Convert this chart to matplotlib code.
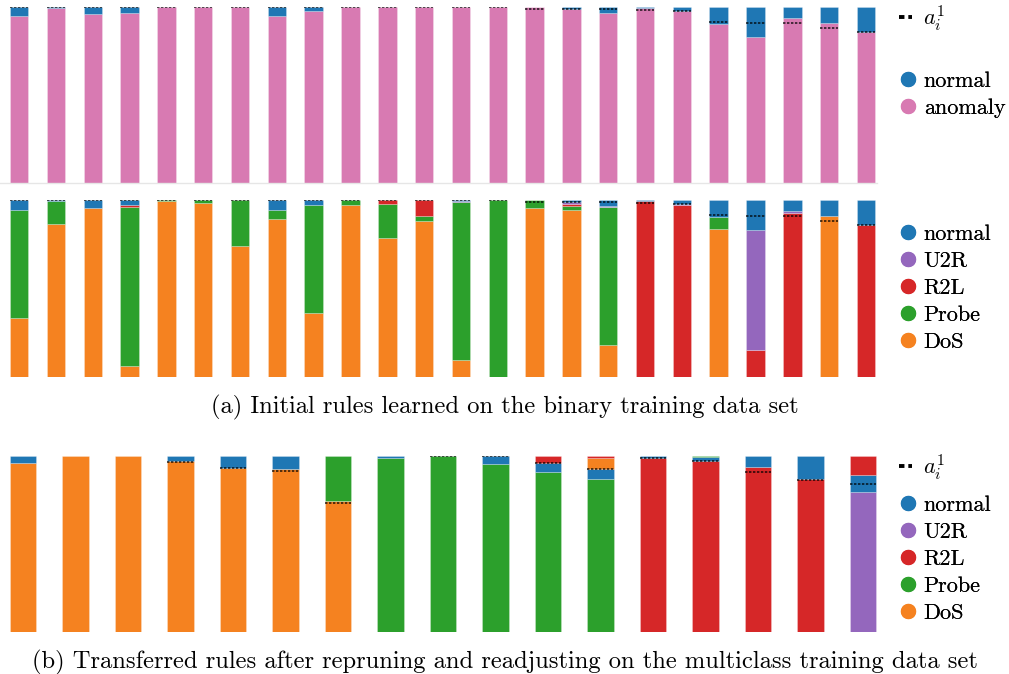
import numpy as np
import matplotlib
matplotlib.use("Agg")
import matplotlib.pyplot as plt
from matplotlib.lines import Line2D

plt.rcParams['font.family'] = 'cmr10'
plt.rcParams['mathtext.fontset'] = 'cm'
plt.rcParams['axes.unicode_minus'] = False

# class colours
colors = {
    'normal': '#1f77b4',
    'anomaly': '#d87ab2',
    'U2R': '#9467bd',
    'R2L': '#d62728',
    'Probe': '#2ca02c',
    'DoS': '#f58220',
}

# ---- (a) initial rules, binary view ----
normal_bin = [0.05, 0.003, 0.04, 0.032, 0.0, 0.0, 0.0, 0.053, 0.025, 0.0, 0.0, 0.0,
              0.0, 0.0, 0.002, 0.01, 0.034, 0.008, 0.02, 0.095, 0.17, 0.0625, 0.089, 0.142]
anomaly_bin = [0.95, 0.997, 0.96, 0.968, 1.0, 1.0, 1.0, 0.947, 0.975, 1.0, 1.0, 1.0,
               1.0, 1.0, 0.998, 0.99, 0.966, 0.992, 0.98, 0.905, 0.83, 0.9375, 0.911, 0.858]
a1_init = [1.0, 1.0, 1.0, 1.0, 1.0, 1.0, 1.0, 1.0, 1.0, 1.0, 1.0, 1.0,
           0.998, 0.998, 0.99, 0.99, 0.99, 0.985, 0.977, 0.915, 0.911, 0.911, 0.882, 0.86]

# ---- (a) initial rules, multiclass view ----
dos_init = [0.333, 0.864, 0.957, 0.062, 0.995, 0.985, 0.742, 0.893, 0.36, 0.972, 0.785, 0.88,
            0.096, 0.0, 0.957, 0.942, 0.18, 0.0, 0.0, 0.836, 0.0, 0.0, 0.911, 0.0]
probe_init = [0.611, 0.133, 0.0, 0.9, 0.005, 0.015, 0.258, 0.051, 0.612, 0.028, 0.191, 0.028,
              0.894, 1.0, 0.041, 0.025, 0.778, 0.0, 0.0, 0.069, 0.0, 0.0, 0.0, 0.0]
r2l_init = [0.0, 0.0, 0.0, 0.008, 0.0, 0.0, 0.0, 0.0, 0.0, 0.0, 0.024, 0.092,
            0.0, 0.0, 0.0, 0.013, 0.005, 0.992, 0.97, 0.0, 0.153, 0.925, 0.0, 0.858]
u2r_init = [0.0, 0.0, 0.0, 0.0, 0.0, 0.0, 0.0, 0.0, 0.0, 0.0, 0.0, 0.0,
            0.005, 0.0, 0.0, 0.01, 0.005, 0.0, 0.01, 0.0, 0.677, 0.0125, 0.0, 0.0]
normal_init = [0.056, 0.003, 0.043, 0.03, 0.0, 0.0, 0.0, 0.056, 0.028, 0.0, 0.0, 0.0,
               0.005, 0.0, 0.002, 0.01, 0.032, 0.008, 0.02, 0.095, 0.17, 0.0625, 0.089, 0.142]

# ---- (b) transferred rules, multiclass ----
rule_class = ['DoS'] * 7 + ['Probe'] * 5 + ['R2L'] * 4 + ['U2R']
dos_tr = [0.962, 1.0, 1.0, 0.972, 0.93, 0.926, 0.744, 0.0, 0.0, 0.0, 0.0, 0.064,
          0.0, 0.0, 0.0, 0.0, 0.0]
probe_tr = [0.0, 0.0, 0.0, 0.0, 0.0, 0.0, 0.256, 0.99, 1.0, 0.955, 0.907, 0.87,
            0.0, 0.006, 0.0, 0.0, 0.0]
r2l_tr = [0.0, 0.0, 0.0, 0.0, 0.0, 0.0, 0.0, 0.0, 0.0, 0.0, 0.042, 0.011,
          0.988, 0.974, 0.936, 0.867, 0.108]
u2r_tr = [0.0] * 16 + [0.797]
normal_tr = [0.038, 0.0, 0.0, 0.028, 0.07, 0.074, 0.0, 0.01, 0.0, 0.045, 0.051, 0.055,
             0.012, 0.02, 0.064, 0.133, 0.095]
a1_tr = [np.nan, np.nan, np.nan, 0.968, 0.93, 0.913, 0.731, np.nan, 1.0, 0.998, 0.958, 0.924,
         0.987, 0.97, 0.907, 0.866, 0.843]

W, H = 1009, 674
BAR_W = 0.5
FS = 16        # legend text
CAP_FS = 17.7  # sub-captions


def px_axes(fig, left, top, width, height):
    return fig.add_axes([left / W, 1 - (top + height) / H, width / W, height / H])


def stacked(ax, parts, order_per_bar):
    n = len(order_per_bar)
    x = np.arange(n)
    bottom = np.zeros(n)
    depth = max(len(o) for o in order_per_bar)
    for level in range(depth):
        for i in range(n):
            if level >= len(order_per_bar[i]):
                continue
            name = order_per_bar[i][level]
            h = parts[name][i]
            if h <= 0:
                continue
            ax.bar(x[i], h, bottom=bottom[i], width=BAR_W, color=colors[name],
                   edgecolor=(1, 1, 1, 0.35), linewidth=0.5)
            bottom[i] += h


def dashes(ax, a1):
    for i, v in enumerate(a1):
        if np.isnan(v):
            continue
        ax.plot([i - BAR_W / 2, i + BAR_W / 2], [v, v], color='black', lw=1.1,
                dashes=(1.6, 1.0), alpha=0.85, solid_capstyle='butt')


def clean(ax, bottom_line=False):
    ax.set_ylim(0, 1)
    ax.set_xticks([])
    ax.set_yticks([])
    for s in ax.spines.values():
        s.set_visible(False)
    if bottom_line:
        ax.spines['bottom'].set_visible(True)
        ax.spines['bottom'].set_color('#e6e6e6')
        ax.spines['bottom'].set_linewidth(1.0)


def class_legend(ax, names, ycenter):
    handles = [Line2D([], [], ls='', marker='o', markersize=10, color=colors[c]) for c in names]
    leg = ax.legend(handles, names, loc='center left', bbox_to_anchor=(897 / 877, ycenter),
                    frameon=False, fontsize=FS, borderpad=0, borderaxespad=0,
                    handlelength=1.0, handletextpad=0.2, labelspacing=0.34)
    ax.add_artist(leg)


def a1_legend(ax, yfrac):
    h = Line2D([], [], color='black', lw=2.8, dashes=(1.4, 1.0))
    leg = ax.legend([h], [r'$a_i^1$'], loc='center left', bbox_to_anchor=(899 / 877, yfrac),
                    frameon=False, fontsize=FS, borderpad=0, borderaxespad=0,
                    handlelength=0.6, handletextpad=0.5)
    ax.add_artist(leg)


fig = plt.figure(figsize=(W / 100, H / 100), dpi=100)

# (a) binary
ax1 = px_axes(fig, 0, 7, 877, 176)
stacked(ax1, {'anomaly': anomaly_bin, 'normal': normal_bin},
        [['anomaly', 'normal']] * len(normal_bin))
dashes(ax1, a1_init)
clean(ax1, bottom_line=True)
ax1.set_xlim(-0.52, 23.3)
a1_legend(ax1, (183 - 18) / 176)
class_legend(ax1, ['normal', 'anomaly'], (183 - 94.5) / 176)

# (a) multiclass
ax2 = px_axes(fig, 0, 200, 877, 177)
fixed_order = ['DoS', 'Probe', 'R2L', 'U2R', 'normal']
stacked(ax2, {'DoS': dos_init, 'Probe': probe_init, 'R2L': r2l_init,
              'U2R': u2r_init, 'normal': normal_init},
        [fixed_order] * len(dos_init))
dashes(ax2, a1_init)
clean(ax2)
ax2.set_xlim(-0.52, 23.3)
class_legend(ax2, ['normal', 'U2R', 'R2L', 'Probe', 'DoS'], (377 - 288) / 177)

fig.text(0.5, 1 - 407 / H, '(a) Initial rules learned on the binary training data set',
         ha='center', va='center', fontsize=CAP_FS)

# (b) transferred rules: rule class at the bottom, then the remaining classes
ax3 = px_axes(fig, 0, 456, 877, 176)
rest = ['normal', 'DoS', 'Probe', 'R2L', 'U2R']
orders = [[rc] + [c for c in rest if c != rc] for rc in rule_class]
stacked(ax3, {'DoS': dos_tr, 'Probe': probe_tr, 'R2L': r2l_tr,
              'U2R': u2r_tr, 'normal': normal_tr}, orders)
dashes(ax3, a1_tr)
clean(ax3)
ax3.set_xlim(-0.44, 16.265)
a1_legend(ax3, (632 - 467) / 176)
class_legend(ax3, ['normal', 'U2R', 'R2L', 'Probe', 'DoS'], (632 - 559) / 176)

fig.text(0.5, 1 - 662 / H,
         '(b) Transferred rules after repruning and readjusting on the multiclass training data set',
         ha='center', va='center', fontsize=CAP_FS)

fig.savefig('out.png', dpi=100)
